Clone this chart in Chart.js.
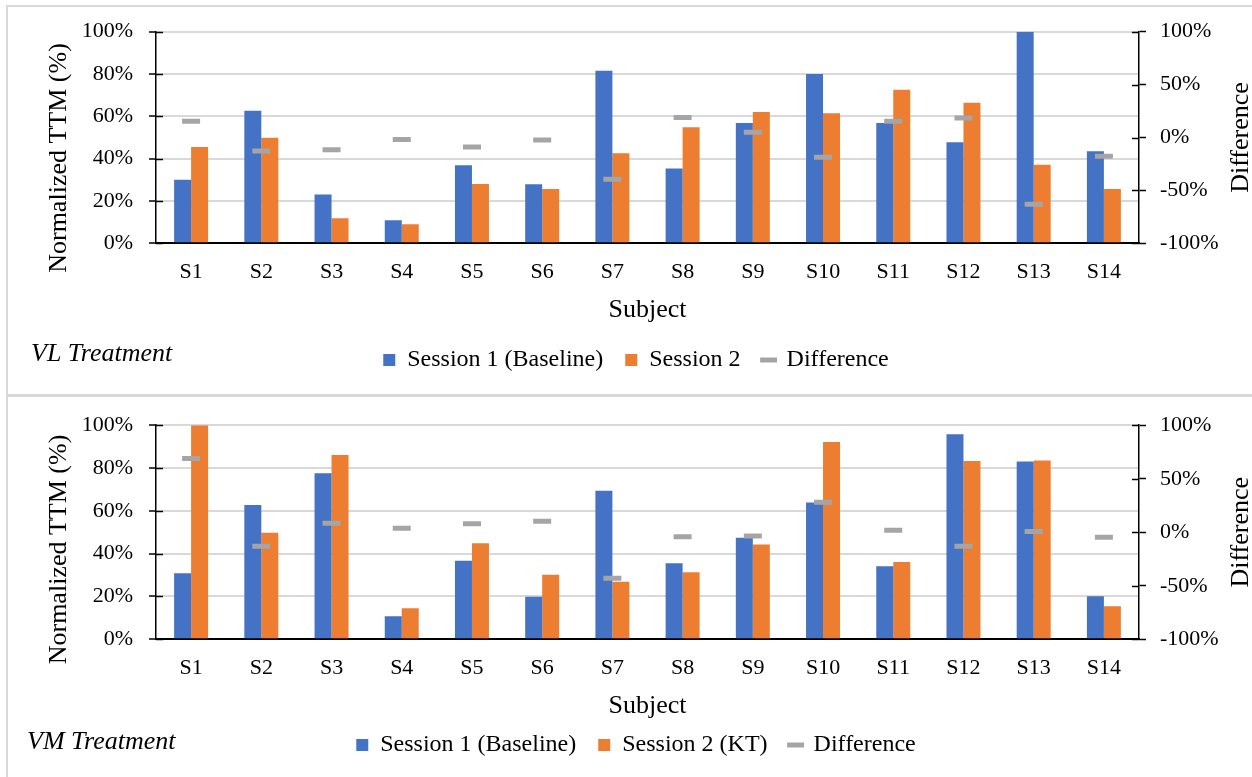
<!DOCTYPE html>
<html><head><meta charset="utf-8">
<script src="https://cdn.jsdelivr.net/npm/chart.js@4.4.1/dist/chart.umd.min.js"></script>
<style>
html,body{margin:0;padding:0;background:#fff;width:1252px;height:777px;overflow:hidden;position:relative}
.b{position:absolute;background:#D9D9D9}
canvas{position:absolute;left:0}
</style></head><body>
<div class="b" style="left:6px;top:5px;width:1246px;height:2px"></div>
<div class="b" style="left:6px;top:5px;width:2px;height:772px"></div>
<div class="b" style="left:6px;top:394px;width:1246px;height:3px"></div>
<canvas id="c1" width="1252" height="396" style="top:0"></canvas>
<canvas id="c2" width="1252" height="381" style="top:396px"></canvas>
<script>
const subjects = ['S1','S2','S3','S4','S5','S6','S7','S8','S9','S10','S11','S12','S13','S14'];
const leftTicks = [0, 20, 40, 60, 80, 100];
const rightTicks = [-100, -50, 0, 50, 100];

const vlSession1 = [30.0, 62.7, 23.1, 10.9, 36.9, 27.9, 81.6, 35.4, 56.8, 80.0, 56.8, 47.7, 100, 43.5];
const vlSession2 = [45.5, 49.9, 11.8, 9.0, 28.0, 25.7, 42.5, 54.8, 62.0, 61.5, 72.6, 66.4, 37.1, 25.7];
const vlDifference = [15.3, -12.8, -11.5, -2.0, -9.0, -2.4, -39.5, 19.0, 4.9, -18.7, 15.3, 18.4, -63.0, -17.8];

const vmSession1 = [30.9, 62.7, 77.6, 10.8, 36.7, 19.9, 69.4, 35.5, 47.4, 63.9, 34.1, 95.8, 83.0, 20.1];
const vmSession2 = [100, 49.8, 86.1, 14.5, 44.9, 30.1, 26.9, 31.3, 44.3, 92.1, 36.1, 83.3, 83.5, 15.4];
const vmDifference = [68.8, -13.0, 8.3, 3.7, 8.0, 10.2, -42.9, -4.3, -3.4, 28.1, 1.9, -13.0, 0.6, -4.6];

const FONT = "'Liberation Serif', 'Times New Roman', serif";
Chart.defaults.font.family = FONT;
Chart.defaults.color = '#000';

const extras = {
  id: 'extras',
  afterDraw(chart, args, o) {
    const ctx = chart.ctx, ca = chart.chartArea;
    ctx.save();
    ctx.strokeStyle = '#000'; ctx.lineWidth = 1.5;
    const y = chart.scales.y, y1 = chart.scales.y1;
    y.ticks.forEach(t => { const p = Math.round(y.getPixelForValue(t.value)) + 0.5; ctx.beginPath(); ctx.moveTo(ca.left, p); ctx.lineTo(ca.left + 7, p); ctx.stroke(); });
    y1.ticks.forEach(t => { const p = Math.round(y1.getPixelForValue(t.value)) + 0.5; ctx.beginPath(); ctx.moveTo(ca.right - 7, p); ctx.lineTo(ca.right, p); ctx.stroke(); });
    ctx.fillStyle = '#000';
    ctx.textAlign = 'center'; ctx.textBaseline = 'middle';
    ctx.font = '26px ' + FONT;
    ctx.save(); ctx.translate(o.leftX, o.leftY); ctx.rotate(-Math.PI / 2); ctx.fillText(o.leftTitle, 0, 0); ctx.restore();
    ctx.save(); ctx.translate(o.rightX, (ca.top + ca.bottom) / 2); ctx.rotate(-Math.PI / 2); ctx.fillText(o.rightTitle, 0, 0); ctx.restore();
    ctx.font = 'italic 26px ' + FONT;
    ctx.textAlign = 'left';
    ctx.fillText(o.note, o.noteX, o.noteY);
    ctx.restore();
  }
};

function build(id, s1, s2, diff, labels, cfg) {
  return new Chart(document.getElementById(id), {
    data: {
      labels: subjects,
      datasets: [
        { type: 'bar', label: labels[0], data: s1, backgroundColor: '#4472C4', borderWidth: 0, yAxisID: 'y', order: 1,
          categoryPercentage: 0.484, barPercentage: 1.0, pointStyle: 'rect' },
        { type: 'bar', label: labels[1], data: s2, backgroundColor: '#ED7D31', borderWidth: 0, yAxisID: 'y', order: 1,
          categoryPercentage: 0.484, barPercentage: 1.0, pointStyle: 'rect' },
        { type: 'line', label: labels[2], data: diff, yAxisID: 'y1', order: 0, showLine: false,
          pointStyle: 'line', pointRadius: 9, pointHoverRadius: 9, pointBorderWidth: 5,
          pointBorderColor: '#A5A5A5', borderColor: '#A5A5A5', backgroundColor: '#A5A5A5' }
      ]
    },
    options: {
      responsive: false, animation: false, devicePixelRatio: 1,
      layout: { padding: { left: 20, right: 0, top: cfg.top, bottom: cfg.bottom } },
      plugins: {
        tooltip: { enabled: false },
        legend: {
          position: 'bottom',
          labels: { usePointStyle: true, boxHeight: 12, boxWidth: 12, padding: 22, color: '#000',
                    font: { size: 24, family: FONT }, sort: (a, b) => a.datasetIndex - b.datasetIndex }
        },
        extras: { leftTitle: 'Normalized TTM (%)', leftX: 59, leftY: cfg.leftY,
                  rightTitle: 'Difference', rightX: 1241,
                  note: cfg.note, noteX: cfg.noteX, noteY: cfg.noteY }
      },
      scales: {
        x: {
          type: 'category', offset: true,
          grid: { display: false },
          border: { display: true, color: '#000', width: 2 },
          ticks: { font: { size: 22 }, padding: 8, autoSkip: false, maxRotation: 0, color: '#000' },
          title: { display: true, text: 'Subject', font: { size: 26 }, color: '#000', padding: { top: 0, bottom: cfg.titlePad } },
          afterFit: s => { s.height = cfg.xHeight; }
        },
        y: {
          position: 'left', min: 0, max: 100,
          afterBuildTicks: s => { s.ticks = leftTicks.map(v => ({ value: v })); },
          ticks: { font: { size: 22 }, padding: 16, color: '#000', callback: v => v + '%' },
          grid: { color: '#D9D9D9', lineWidth: 2, tickColor: '#000', tickWidth: 1.5, tickLength: 7 },
          border: { display: true, color: '#000', width: 1.5 },
          afterFit: s => { s.width = 136; }
        },
        y1: {
          position: 'right', min: -100, max: 100,
          afterBuildTicks: s => { s.ticks = rightTicks.map(v => ({ value: v })); },
          ticks: { font: { size: 22 }, padding: 14, color: '#000', callback: v => v + '%' },
          grid: { drawOnChartArea: false, color: '#000', tickColor: '#000', tickWidth: 1.5, tickLength: 7 },
          border: { display: true, color: '#000', width: 1.5 },
          afterFit: s => { s.width = 113; }
        }
      }
    },
    plugins: [extras]
  });
}

build('c1', vlSession1, vlSession2, vlDifference, ['Session 1 (Baseline)', 'Session 2', 'Difference'],
  { top: 31.7, bottom: 14, xHeight: 82.7, titlePad: 0, leftY: 158, note: 'VL Treatment', noteX: 31, noteY: 354 });
build('c2', vmSession1, vmSession2, vmDifference, ['Session 1 (Baseline)', 'Session 2 (KT)', 'Difference'],
  { top: 27.3, bottom: 10, xHeight: 71.7, titlePad: -10.6, leftY: 153.5, note: 'VM Treatment', noteX: 27, noteY: 346 });
</script>
</body></html>
